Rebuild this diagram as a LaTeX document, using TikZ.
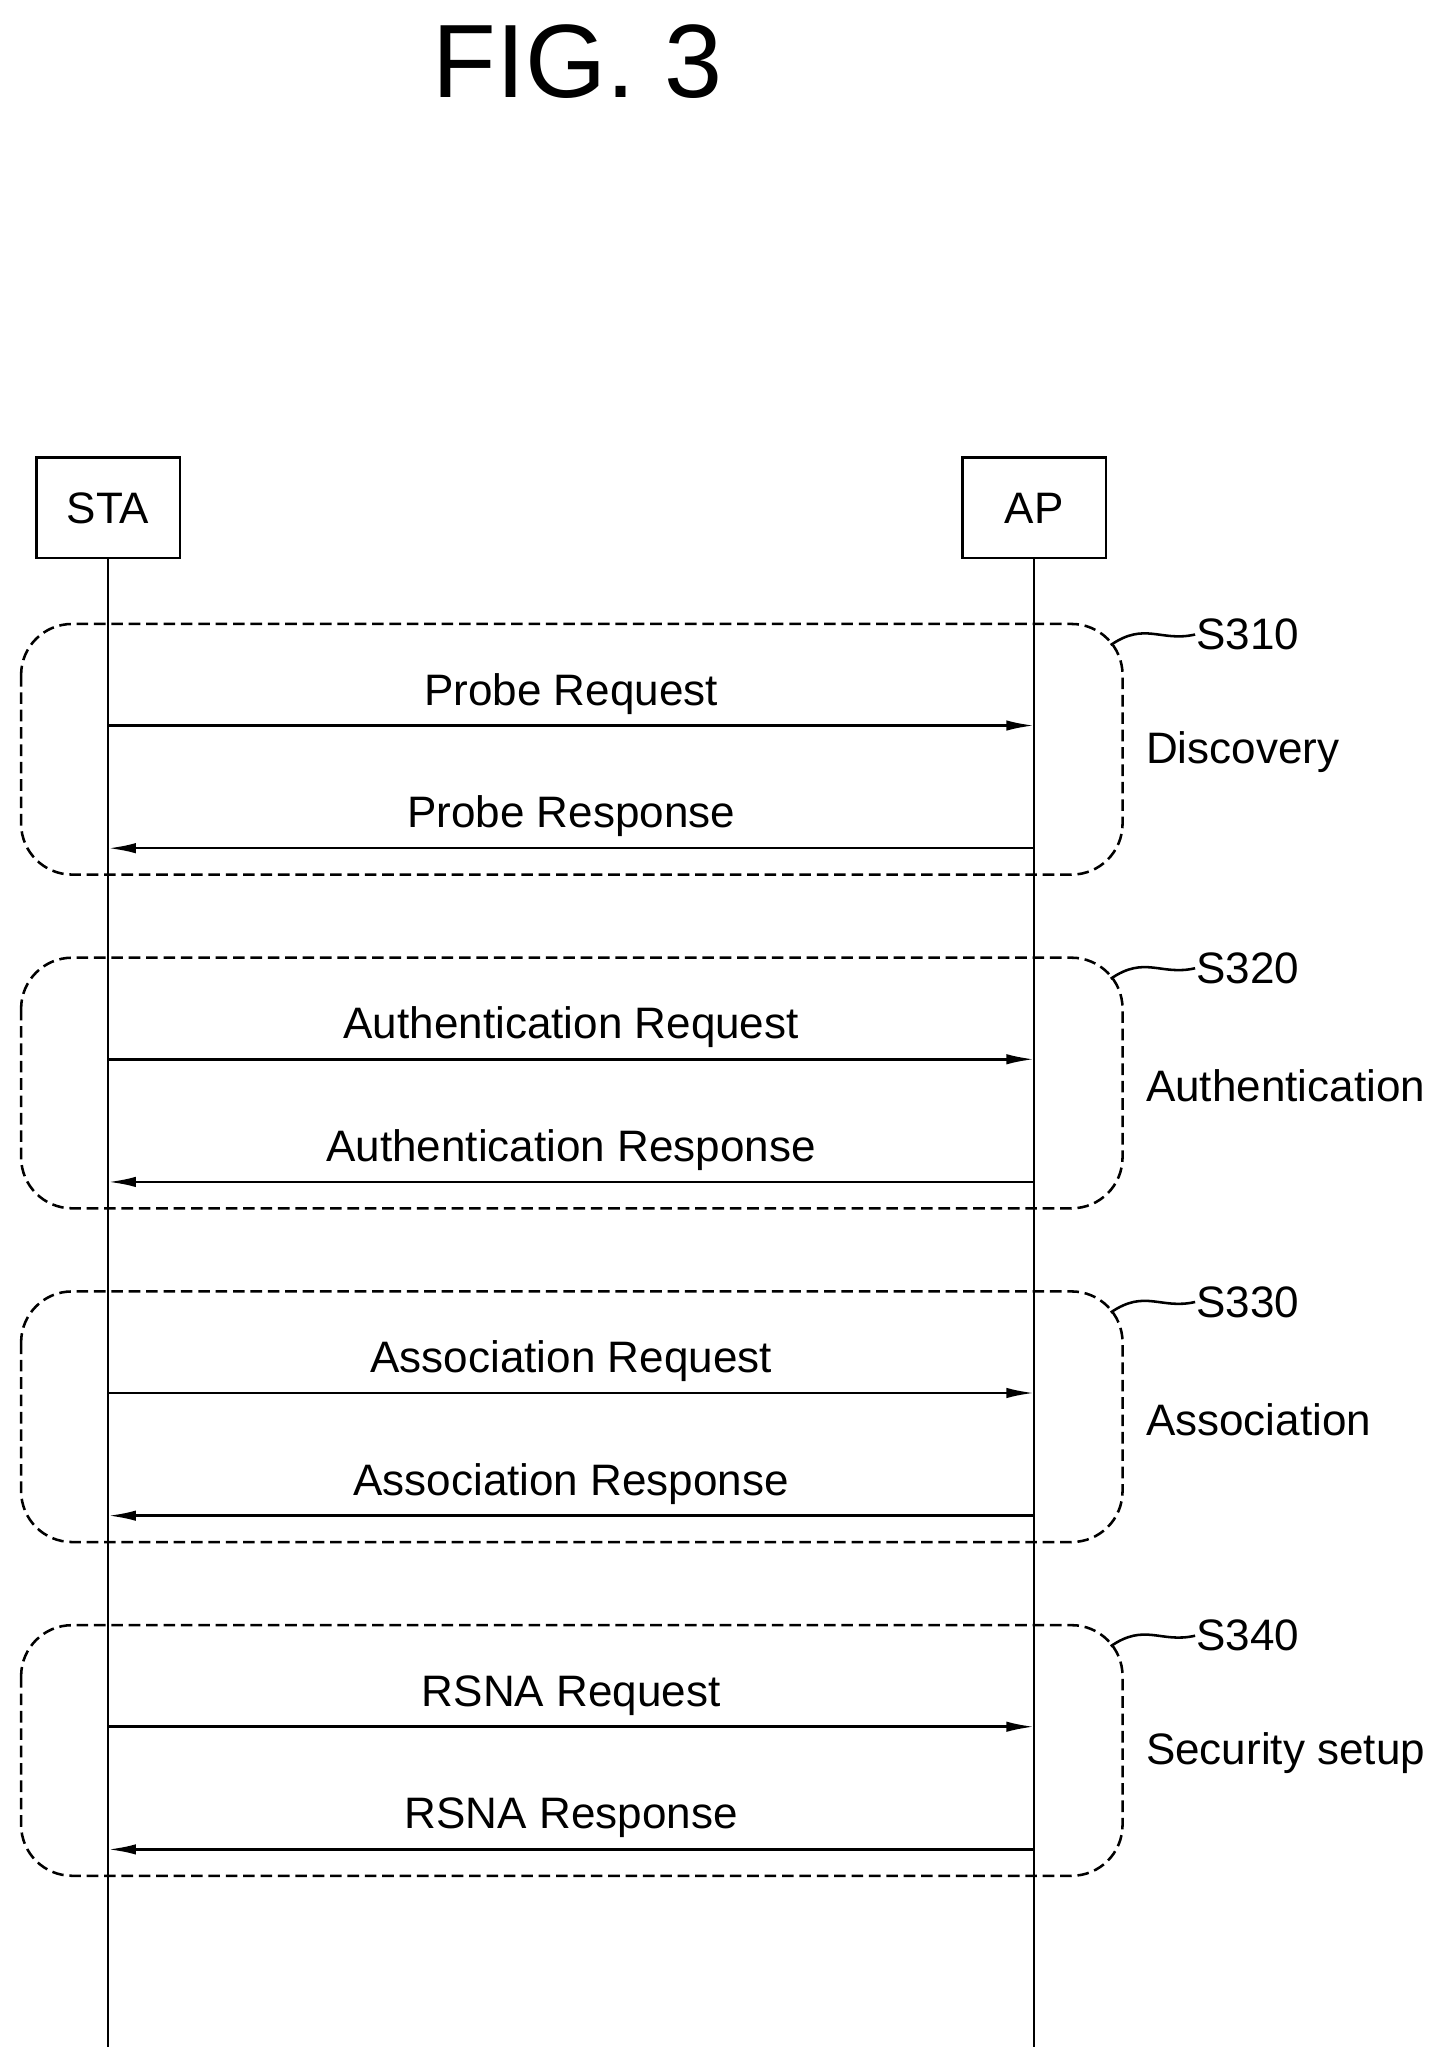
\documentclass[tikz,border=0pt]{standalone}
\usepackage{fontspec}
\setmainfont{Liberation Sans}
\usetikzlibrary{arrows.meta}
\usetikzlibrary{positioning}

\begin{document}
\begin{tikzpicture}[x=0.02cm,y=-0.02cm,line width=1.1pt,
		entity/.style={draw,minimum width=109*0.02cm,minimum height=76*0.02cm,inner sep=0pt,font=\fontsize{19}{21}\selectfont},
		msg/.style={-{Latex[length=12pt,width=4.5pt]}},
		phase/.style={draw,dash pattern=on 5pt off 2.5pt,rounded corners=22pt},
		lbl/.style={font=\fontsize{19}{21}\selectfont}]
	\useasboundingbox (0,0) rectangle (1100,1570);
	\node[font=\fontsize{45}{50}\selectfont] (fig) at (438,47) {FIG. 3};
	
	% entities and lifelines
	\node[entity] (sta) at (82,385) {STA};
	\node[entity] (ap) at (784,385) {AP};
	\coordinate (staend) at (82,1552);
	\coordinate (apend) at (784,1552);
	\draw (sta) -- (staend);
	\draw (ap) -- (apend);
	
	% phases
	\foreach \i/\top/\step/\name/\req/\rsp in {
			1/473/S310/Discovery/Probe Request/Probe Response,
			2/726/S320/Authentication/Authentication Request/Authentication Response,
			3/979/S330/Association/Association Request/Association Response,
			4/1232/S340/Security setup/RSNA Request/RSNA Response}{
		\draw[phase] (16,\top) rectangle (851,\top+190);
		\coordinate (qa\i) at (82,\top+77);
		\coordinate (qb\i) at (784,\top+77);
		\coordinate (ra\i) at (784,\top+170);
		\coordinate (rb\i) at (82,\top+170);
		\draw[msg] (qa\i) -- node[lbl,above=1pt] {\req} (qb\i);
		\draw[msg] (ra\i) -- node[lbl,above=1pt] {\rsp} (rb\i);
		\node[lbl,anchor=west] (name\i) at (862,\top+97) {\name};
		\node[lbl,anchor=west,inner sep=0pt] (step\i) at (906,\top+8) {\step};
		\draw (842,\top+16) .. controls (868,\top-2) and (880,\top+14) .. (step\i.west);
	}
\end{tikzpicture}
\end{document}
